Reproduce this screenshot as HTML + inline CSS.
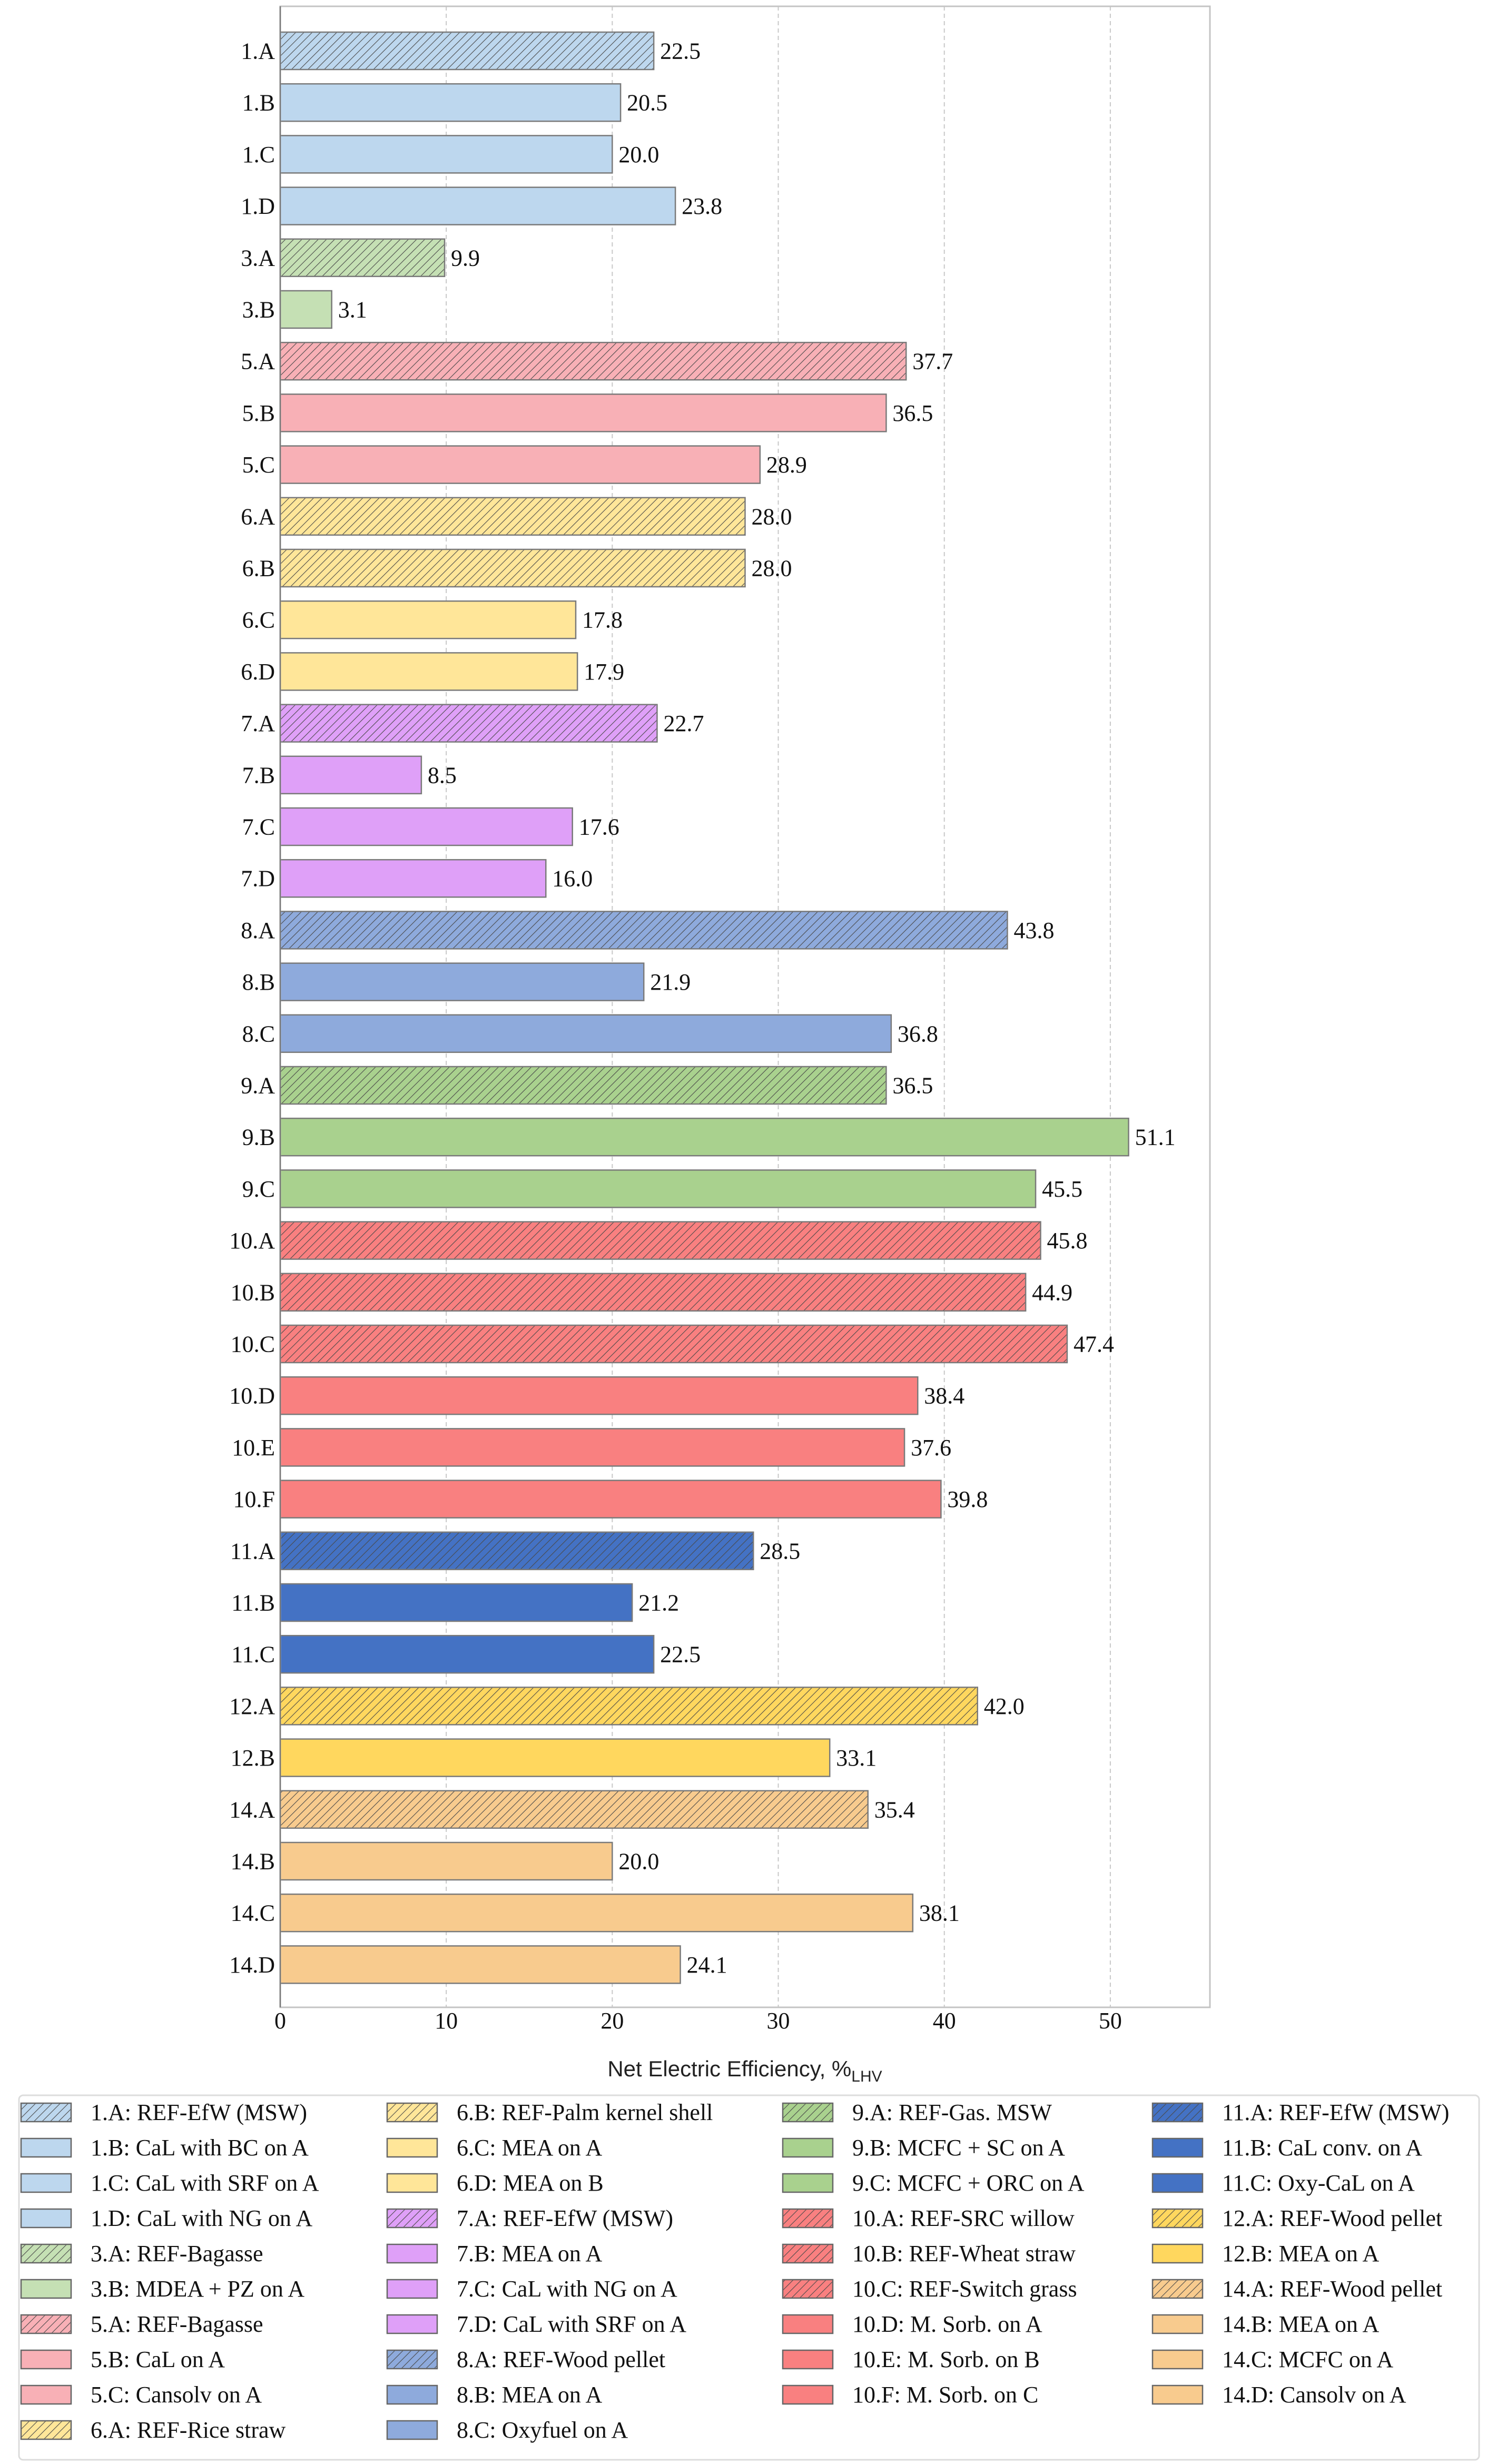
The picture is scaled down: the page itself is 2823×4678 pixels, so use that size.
<!DOCTYPE html>
<html><head><meta charset="utf-8">
<style>
html,body{margin:0;padding:0;background:#fff;}
svg{display:block;font-family:"Liberation Serif",serif;}
</style></head>
<body>
<svg id="chart" width="2823" height="4678" viewBox="0 0 2823 4678" xmlns="http://www.w3.org/2000/svg">
<defs id="defs"></defs>
<g id="grid"></g><g id="bars"></g><g id="axes"></g><g id="legend"></g>
</svg>
<script>
const categories = ["1.A","1.B","1.C","1.D","3.A","3.B","5.A","5.B","5.C","6.A","6.B","6.C","6.D","7.A","7.B","7.C","7.D","8.A","8.B","8.C","9.A","9.B","9.C","10.A","10.B","10.C","10.D","10.E","10.F","11.A","11.B","11.C","12.A","12.B","14.A","14.B","14.C","14.D"];
const values = [22.5,20.5,20.0,23.8,9.9,3.1,37.7,36.5,28.9,28.0,28.0,17.8,17.9,22.7,8.5,17.6,16.0,43.8,21.9,36.8,36.5,51.1,45.5,45.8,44.9,47.4,38.4,37.6,39.8,28.5,21.2,22.5,42.0,33.1,35.4,20.0,38.1,24.1];
const hatched = ["1.A","3.A","5.A","6.A","6.B","7.A","8.A","9.A","10.A","10.B","10.C","11.A","12.A","14.A"];
const legendLabels = ["1.A: REF-EfW (MSW)","1.B: CaL with BC on A","1.C: CaL with SRF on A","1.D: CaL with NG on A","3.A: REF-Bagasse","3.B: MDEA + PZ on A","5.A: REF-Bagasse","5.B: CaL on A","5.C: Cansolv on A","6.A: REF-Rice straw","6.B: REF-Palm kernel shell","6.C: MEA on A","6.D: MEA on B","7.A: REF-EfW (MSW)","7.B: MEA on A","7.C: CaL with NG on A","7.D: CaL with SRF on A","8.A: REF-Wood pellet","8.B: MEA on A","8.C: Oxyfuel on A","9.A: REF-Gas. MSW","9.B: MCFC + SC on A","9.C: MCFC + ORC on A","10.A: REF-SRC willow","10.B: REF-Wheat straw","10.C: REF-Switch grass","10.D: M. Sorb. on A","10.E: M. Sorb. on B","10.F: M. Sorb. on C","11.A: REF-EfW (MSW)","11.B: CaL conv. on A","11.C: Oxy-CaL on A","12.A: REF-Wood pellet","12.B: MEA on A","14.A: REF-Wood pellet","14.B: MEA on A","14.C: MCFC on A","14.D: Cansolv on A"];
const xTicks = [0,10,20,30,40,50];
const groupColors = {"1":"#bdd7ee","3":"#c5e0b4","5":"#f8b0b6","6":"#ffe699","7":"#dfa0f8","8":"#8eaadc","9":"#a9d18e","10":"#f98080","11":"#4472c4","12":"#ffd75e","14":"#f8cb8e"};

const NS="http://www.w3.org/2000/svg";
const X0=532, XMAX=56, X1=2297, TOP=12, BOT=3811;
const xs=v=>X0+(X1-X0)*v/XMAX;
const yc=i=>96.5+98.2*i;
const BH=71;
function mk(tag,attrs,parent){const e=document.createElementNS(NS,tag);for(const k in attrs)e.setAttribute(k,attrs[k]);parent.appendChild(e);return e;}
const defs=document.getElementById('defs');
for(const g in groupColors){
  const p=mk('pattern',{id:'h'+g,patternUnits:'userSpaceOnUse',width:11,height:11,patternTransform:'rotate(45)'},defs);
  mk('rect',{x:0,y:0,width:11,height:11,fill:groupColors[g]},p);
  mk('line',{x1:0,y1:0,x2:0,y2:11,stroke:'#4a4a4a','stroke-width':2.2},p);
}
function fillFor(cat){const g=cat.split('.')[0];return hatched.includes(cat)?'url(#h'+g+')':groupColors[g];}

const grid=document.getElementById('grid');
xTicks.forEach(t=>{if(t===0)return;
  const l=mk('line',{x1:xs(t),x2:xs(t),y1:TOP,y2:BOT,stroke:'#c8c8c8','stroke-width':2,'stroke-dasharray':'8,6'},grid);
  
  
});
const bars=document.getElementById('bars');
categories.forEach((c,i)=>{
  const r=mk('rect',{x:X0,y:yc(i)-BH/2,width:xs(values[i])-X0,height:BH,fill:fillFor(c),stroke:'#7a7a7a','stroke-width':2.5},bars);
  
  
  const t=mk('text',{x:xs(values[i])+12,y:yc(i)+15,'font-size':44,fill:'#111'},bars);
  t.textContent=values[i].toFixed(1);
  
  
  const y=mk('text',{x:522,y:yc(i)+15,'font-size':44,fill:'#111','text-anchor':'end'},bars);
  y.textContent=c;
  
  
});
const axes=document.getElementById('axes');
const fr=mk('rect',{x:X0,y:TOP,width:X1-X0,height:BOT-TOP,fill:'none',stroke:'#c4c4c4','stroke-width':3},axes);


const la=mk('line',{x1:X0,x2:X0,y1:TOP,y2:BOT,stroke:'#777','stroke-width':2.5},axes);


xTicks.forEach(t=>{
  const e=mk('text',{x:xs(t),y:3851,'font-size':44,fill:'#111','text-anchor':'middle'},axes);
  e.textContent=t;
  
  
});
const xt=mk('text',{x:1414,y:3942,'font-size':42,fill:'#222','text-anchor':'middle','font-family':'Liberation Sans, sans-serif'},axes);


xt.innerHTML='Net Electric Efficiency, %<tspan font-size="30" dy="10">LHV</tspan>';

const lg=document.getElementById('legend');
const lb=mk('rect',{x:36,y:3978,width:2772,height:692,rx:8,fill:'#fff',stroke:'#dcdcdc','stroke-width':3},lg);


const colX=[40,735,1486,2188];
const colStart=[0,10,20,29,38];
legendLabels.forEach((lab,i)=>{
  let col=0; while(i>=colStart[col+1]) col++;
  const row=i-colStart[col];
  const cat=lab.split(':')[0];
  const g=mk('g',{},lg);
  
  
  const y=3993+67*row;
  mk('rect',{x:colX[col],y:y,width:95,height:35,fill:fillFor(cat),stroke:'#666','stroke-width':2.5},g);
  const t=mk('text',{x:colX[col]+132,y:y+32,'font-size':44,fill:'#111'},g);
  t.textContent=lab;
});
</script>
</body></html>
